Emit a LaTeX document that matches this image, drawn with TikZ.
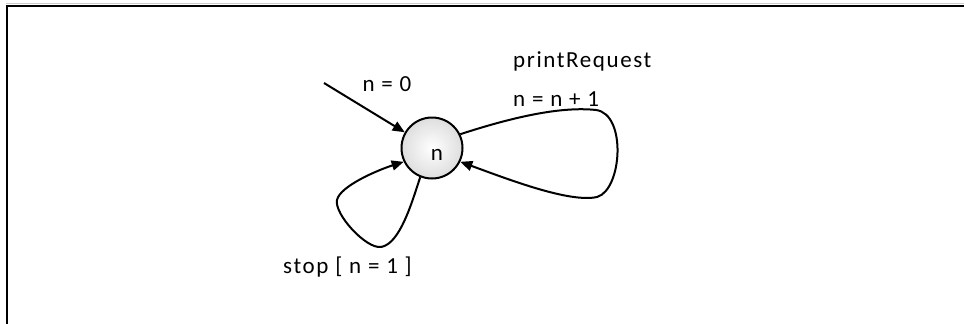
\documentclass[tikz,border=0pt]{standalone}
\usepackage{fontspec}
\setmainfont{Carlito}[LetterSpace=7]
\usetikzlibrary{arrows.meta}
\tikzset{
  lbl/.style={inner sep=0pt, font=\fontsize{23}{27}\selectfont},
  conn/.style={line width=2pt, -{Triangle[length=12pt,width=10pt]}},
  statec/.style={circle, draw, line width=2pt, minimum size=61pt, inner sep=0pt,
    inner color=white, outer color=black!13, font=\fontsize{23}{27}\selectfont},
  frame/.style={line width=2.2pt}
}
\begin{document}
\begin{tikzpicture}[x=1pt,y=-1pt]
\useasboundingbox (0,0) rectangle (964,324);
% frame
\draw[black!20, line width=1pt] (6,3.5) -- (964,3.5);
\draw[frame] (6,6) -- (964,6);
\draw[frame] (7,5) -- (7,324);
% state
\node[statec] (c) at (432,148) {};
\node[lbl, anchor=base] (nl) at (437,160) {n};
% initial transition
\coordinate (init) at (324,83);
\draw[conn] (init) -- (c.150);
\node[lbl, anchor=base] (l0) at (387,91) {n = 0};
% right self-loop
\draw[conn] (c.26) .. controls (510,118) and (560,106) .. (596,110)
  .. controls (627,114) and (622,190) .. (597,197)
  .. controls (570,203) and (510,180) .. (c.-26);
\node[lbl, anchor=base west] (lpr) at (513,67) {printRequest};
\node[lbl, anchor=base west] (lnn) at (513,106) {n = n + 1};
% left self-loop
\draw[conn] (c.-112) .. controls (412,202) and (400,244) .. (381,247)
  .. controls (366,249) and (334,214) .. (337,200)
  .. controls (340,186) and (378,170) .. (c.-154);
\node[lbl, anchor=base west] (lst) at (283,273) {stop [ n = 1 ]};
\end{tikzpicture}
\end{document}
